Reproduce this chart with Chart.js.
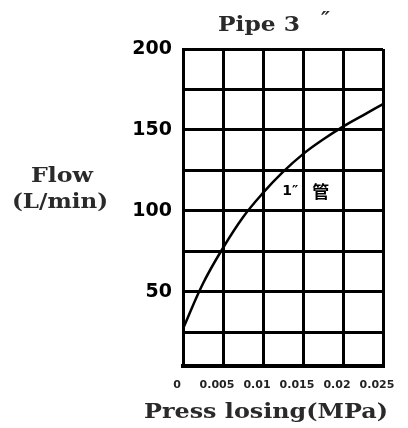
<!DOCTYPE html>
<html>
<head>
<meta charset="utf-8">
<script src="https://cdn.jsdelivr.net/npm/chart.js@4"></script>
<style>
  body { margin: 0; background: #fff; }
  #chart { display: block; }
</style>
</head>
<body>
<canvas id="chart" width="408" height="428"></canvas>
<script>
// pressure loss (MPa) and flow (L/min)
const pressure = [0, 0.0025, 0.005, 0.0075, 0.01, 0.0125, 0.015, 0.0175, 0.02, 0.0225, 0.025]
const flow = [27, 55, 77, 96, 111, 124, 135, 144, 152, 159, 166]

const xTicks = [0, 0.005, 0.01, 0.015, 0.02, 0.025]
const xTickLabels = ["0", "0.005", "0.01", "0.015", "0.02", "0.025"]
const yTicks = [25, 50, 75, 100, 125, 150, 175, 200]
const yTickLabels = ["", "50", "", "100", "", "150", "", "200"]

const titleText = "Pipe 3"
const titleMark = "″"
const yTitle = ["Flow", "(L/min)"]
const xTitle = "Press losing(MPa)"
const curveLabel = "1″"
const curveLabelCJK = "管"

const serif = "bold 20px 'DejaVu Serif', 'Liberation Serif', serif"

// draw text stretched sideways so it spans a given width (the scan uses a wide typewriter face)
function stretched(ctx, text, left, width, y) {
    const w = ctx.measureText(text).width
    ctx.save()
    ctx.translate(left, y)
    ctx.scale(width / w, 1)
    ctx.textAlign = "left"
    ctx.fillText(text, 0, 0)
    ctx.restore()
}

// text that sits outside the scales
const textPlugin = {
    id: "texts",
    afterDraw(chart) {
        const ctx = chart.ctx
        const x = chart.scales.x
        const y = chart.scales.y
        ctx.save()
        ctx.fillStyle = "#2a2a2a"
        ctx.font = serif
        ctx.textBaseline = "middle"

        stretched(ctx, titleText, 218, 82, 26)
        ctx.font = "italic bold 20px 'DejaVu Serif', serif"
        ctx.textAlign = "left"
        ctx.fillText(titleMark, 321, 21)

        ctx.font = serif
        stretched(ctx, yTitle[0], 31, 62, 177)
        stretched(ctx, yTitle[1], 12, 96, 203)
        stretched(ctx, xTitle, 144, 244, 413)

        // label next to the curve
        ctx.fillStyle = "#000"
        ctx.textAlign = "left"
        const lx = x.getPixelForValue(0.0124)
        const ly = y.getPixelForValue(112)
        ctx.font = "bold 14px 'DejaVu Sans', sans-serif"
        ctx.fillText(curveLabel, lx, ly)
        ctx.font = "bold 17px 'Noto Sans CJK SC', sans-serif"
        ctx.fillText(curveLabelCJK, lx + 30, ly)
        ctx.restore()
    }
}

new Chart(document.getElementById("chart"), {
    type: "line",
    data: {
        datasets: [{
            data: pressure.map((p, i) => ({ x: p, y: flow[i] })),
            borderColor: "#000",
            borderWidth: 2.5,
            pointRadius: 0,
            fill: false,
            tension: 0.4
        }]
    },
    options: {
        responsive: false,
        animation: false,
        layout: { padding: { left: 0, top: 49, right: 25, bottom: 0 } },
        plugins: {
            legend: { display: false },
            tooltip: { enabled: false }
        },
        scales: {
            x: {
                type: "linear",
                min: 0,
                max: 0.025,
                afterBuildTicks: s => { s.ticks = xTicks.map(v => ({ value: v })) },
                afterFit: s => {
                    s.height = 62
                    s.paddingLeft = 0
                    s.paddingRight = 0
                },
                grid: { color: "#000", lineWidth: 3, drawTicks: false },
                border: { color: "#000", width: 4 },
                ticks: {
                    color: "#222",
                    padding: 13,
                    labelOffset: -6,
                    maxRotation: 0,
                    autoSkip: false,
                    font: { family: "'DejaVu Sans', sans-serif", size: 11, weight: "bold" },
                    callback: (v, i) => xTickLabels[i]
                }
            },
            y: {
                min: 4,
                max: 200,
                afterBuildTicks: s => { s.ticks = yTicks.map(v => ({ value: v })) },
                afterFit: s => {
                    s.width = 183
                    s.paddingTop = 0
                    s.paddingBottom = 0
                },
                grid: { color: "#000", lineWidth: 3, drawTicks: false },
                border: { color: "#000", width: 3 },
                ticks: {
                    color: "#000",
                    padding: 11,
                    autoSkip: false,
                    font: { family: "'DejaVu Sans', sans-serif", size: 19, weight: "bold" },
                    callback: (v, i) => yTickLabels[i]
                }
            }
        }
    },
    plugins: [textPlugin]
})
</script>
</body>
</html>
